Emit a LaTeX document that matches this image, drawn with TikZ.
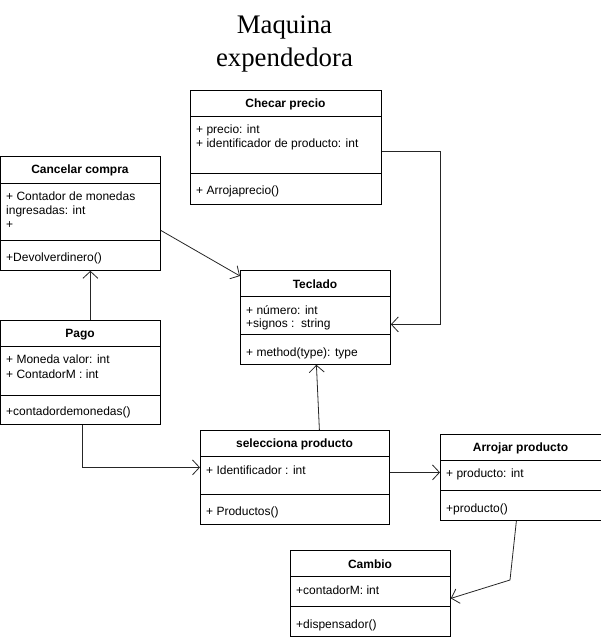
\documentclass[tikz,border=0pt]{standalone}
\usepackage{fontspec}
\setmainfont{Liberation Sans}
\newfontfamily\titlefont{Liberation Serif}
\usetikzlibrary{arrows.meta}
\begin{document}
\begin{tikzpicture}[x=1pt,y=-1pt,
  classbox/.style={draw=black, line width=0.8pt, fill=white, anchor=north west, inner sep=0pt},
  ctitle/.style={font=\fontsize{12}{14}\selectfont\bfseries, inner sep=0pt, anchor=center, yshift=-1.5pt},
  cattr/.style={font=\fontsize{12}{14}\selectfont, inner sep=0pt, anchor=west, yshift=-1.5pt},
  divline/.style={line width=0.8pt},
  conn/.style={line width=0.8pt, draw=black!85, -{Straight Barb[length=7pt,width=15pt,line width=0.8pt]}},
  headline/.style={font=\fontsize{26.8}{33}\selectfont\titlefont, align=center, inner sep=0pt}
]
\useasboundingbox (0,0) rectangle (601,640);

% Title
\node[headline] (title) at (284.5,44) {Maquina\\expendedora};

% Checar precio
\node[classbox, minimum width=191pt, minimum height=114pt] (cp) at (190,90) {};
\draw[divline] (190,116) -- (381,116);
\draw[divline] (190,173) -- (381,173);
\node[ctitle] (cpt) at (285.5,103) {Checar precio};
\node[cattr] (cpa1) at (196,129) {+ precio: int};
\node[cattr] (cpa2) at (196,143) {+ identificador de producto: int};
\node[cattr] (cpm1) at (196,190) {+ Arrojaprecio()};

% Cancelar compra
\node[classbox, minimum width=160pt, minimum height=114pt] (cc) at (0,156) {};
\draw[divline] (0,183) -- (160,183);
\draw[divline] (0,240) -- (160,240);
\node[ctitle] (cct) at (80,169) {Cancelar compra};
\node[cattr] (cca1) at (6,195) {+ Contador de monedas};
\node[cattr] (cca2) at (6,210) {ingresadas: int};
\node[cattr] (cca3) at (6,224) {+};
\node[cattr] (ccm1) at (6,257) {+Devolverdinero()};

% Teclado
\node[classbox, minimum width=150pt, minimum height=94pt] (tk) at (240,270) {};
\draw[divline] (240,296) -- (390,296);
\draw[divline] (240,334) -- (390,334);
\node[ctitle] (tkt) at (315,283) {Teclado};
\node[cattr] (tka1) at (246,309) {+ número: int};
\node[cattr] (tka2) at (246,323) {+signos :\ \ string};
\node[cattr] (tkm1) at (246,352) {+ method(type): type};

% Pago
\node[classbox, minimum width=160pt, minimum height=104pt] (pg) at (0,320) {};
\draw[divline] (0,346) -- (160,346);
\draw[divline] (0,395) -- (160,395);
\node[ctitle] (pgt) at (80,333) {Pago};
\node[cattr] (pga1) at (6,358) {+ Moneda valor: int};
\node[cattr] (pga2) at (6,373) {+ ContadorM : int};
\node[cattr] (pgm1) at (6,411) {+contadordemonedas()};

% selecciona producto
\node[classbox, minimum width=189pt, minimum height=94pt] (sp) at (200,430) {};
\draw[divline] (200,456) -- (389,456);
\draw[divline] (200,494) -- (389,494);
\node[ctitle] (spt) at (294.5,443) {selecciona producto};
\node[cattr] (spa1) at (206,469) {+ Identificador : int};
\node[cattr] (spm1) at (206,511) {+ Productos()};

% Arrojar producto
\node[classbox, minimum width=161pt, minimum height=86pt] (ap) at (440,434) {};
\draw[divline] (440,460) -- (601,460);
\draw[divline] (440,490) -- (601,490);
\node[ctitle] (apt) at (520.5,447) {Arrojar producto};
\node[cattr] (apa1) at (446,473) {+ producto: int};
\node[cattr] (apm1) at (446,508) {+producto()};

% Cambio
\node[classbox, minimum width=160pt, minimum height=86pt] (cb) at (290,550) {};
\draw[divline] (290,576) -- (450,576);
\draw[divline] (290,606) -- (450,606);
\node[ctitle] (cbt) at (370,563) {Cambio};
\node[cattr] (cba1) at (296,589) {+contadorM: int};
\node[cattr] (cbm1) at (296,624) {+dispensador()};

% Connectors
\coordinate (bend1) at (510,580);
\draw[conn] ([yshift=-17pt]cc.east) -- ([yshift=-6pt]tk.north west);
\draw[conn] ([xshift=10pt]pg.north) -- ([xshift=10pt]cc.south);
\draw[conn] ([yshift=-4pt]cp.east) -- ++(59,0) |- ([yshift=-7pt]tk.east);
\draw[conn] ([xshift=24.5pt]sp.north) -- ([xshift=1pt]tk.south);
\draw[conn] ([xshift=2pt]pg.south) |- ([yshift=10pt]sp.west);
\draw[conn] ([yshift=5pt]sp.east) -- ([yshift=5pt]ap.west);
\draw[conn] ([xshift=-4.5pt]ap.south) -- (bend1) -- ([yshift=-5pt]cb.east);
\end{tikzpicture}
\end{document}
